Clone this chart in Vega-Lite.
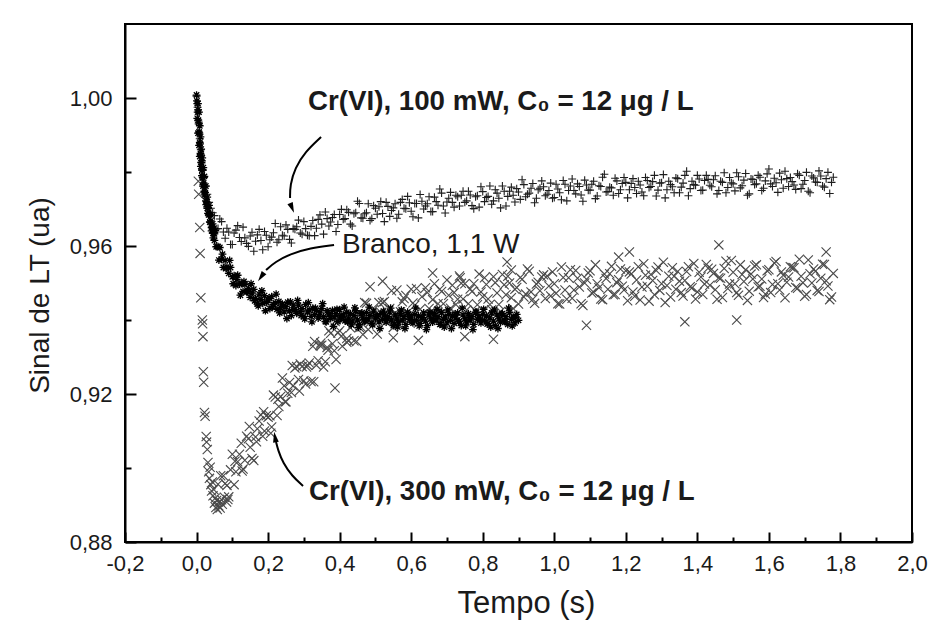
{
"$schema":"https://vega.github.io/schema/vega-lite/v6.json",
"width":787,"height":518,
"autosize":{"type":"none"},
"padding":{"left":125,"top":24,"right":18,"bottom":83},
"background":"white",
"config":{"view":{"stroke":"black","strokeWidth":2},"font":"Liberation Sans"},
"datasets":{
"cr100":[
{"t":0,"v":1.0005},{"t":0.003,"v":0.9975},{"t":0.006,"v":0.993},{"t":0.009,"v":0.989},{"t":0.012,"v":0.986},{"t":0.015,"v":0.983},{"t":0.018,"v":0.9805},{"t":0.021,"v":0.9785},{"t":0.025,"v":0.9762},{"t":0.03,"v":0.974},{"t":0.035,"v":0.9718},{"t":0.04,"v":0.9702},{"t":0.045,"v":0.969},
{"t":0.05,"v":0.9682},{"t":0.06,"v":0.9647},{"t":0.07,"v":0.9666},{"t":0.08,"v":0.9621},{"t":0.09,"v":0.9638},{"t":0.1,"v":0.9604},{"t":0.11,"v":0.9643},{"t":0.12,"v":0.9623},{"t":0.13,"v":0.9651},{"t":0.14,"v":0.9607},
{"t":0.15,"v":0.9627},{"t":0.16,"v":0.9586},{"t":0.17,"v":0.963},{"t":0.18,"v":0.9615},{"t":0.19,"v":0.9639},{"t":0.2,"v":0.9598},{"t":0.21,"v":0.9624},{"t":0.22,"v":0.9661},{"t":0.23,"v":0.9617},{"t":0.24,"v":0.9629},
{"t":0.25,"v":0.9657},{"t":0.26,"v":0.9618},{"t":0.27,"v":0.9647},{"t":0.28,"v":0.9652},{"t":0.29,"v":0.9635},{"t":0.3,"v":0.9666},{"t":0.31,"v":0.9629},{"t":0.32,"v":0.9653},{"t":0.33,"v":0.9628},{"t":0.34,"v":0.9672},
{"t":0.35,"v":0.9659},{"t":0.36,"v":0.9692},{"t":0.37,"v":0.9654},{"t":0.38,"v":0.9677},{"t":0.39,"v":0.9639},{"t":0.4,"v":0.9685},{"t":0.41,"v":0.9672},{"t":0.42,"v":0.9698},{"t":0.43,"v":0.9659},{"t":0.44,"v":0.9687},
{"t":0.45,"v":0.9721},{"t":0.46,"v":0.9676},{"t":0.47,"v":0.9687},{"t":0.48,"v":0.9714},{"t":0.49,"v":0.9674},{"t":0.5,"v":0.9702},{"t":0.51,"v":0.9706},{"t":0.52,"v":0.9688},{"t":0.53,"v":0.9718},{"t":0.54,"v":0.968},
{"t":0.55,"v":0.9703},{"t":0.56,"v":0.9675},{"t":0.57,"v":0.9718},{"t":0.58,"v":0.9702},{"t":0.59,"v":0.9734},{"t":0.6,"v":0.9694},{"t":0.61,"v":0.9715},{"t":0.62,"v":0.9676},{"t":0.63,"v":0.9721},{"t":0.64,"v":0.9708},
{"t":0.65,"v":0.9733},{"t":0.66,"v":0.9693},{"t":0.67,"v":0.972},{"t":0.68,"v":0.9754},{"t":0.69,"v":0.9708},{"t":0.7,"v":0.9719},{"t":0.71,"v":0.9745},{"t":0.72,"v":0.9705},{"t":0.73,"v":0.9733},{"t":0.74,"v":0.9737},
{"t":0.75,"v":0.9718},{"t":0.76,"v":0.9748},{"t":0.77,"v":0.9709},{"t":0.78,"v":0.9733},{"t":0.79,"v":0.9705},{"t":0.8,"v":0.9747},{"t":0.81,"v":0.9731},{"t":0.82,"v":0.9762},{"t":0.83,"v":0.9722},{"t":0.84,"v":0.9743},
{"t":0.85,"v":0.9703},{"t":0.86,"v":0.9748},{"t":0.87,"v":0.9734},{"t":0.88,"v":0.9759},{"t":0.89,"v":0.9719},{"t":0.9,"v":0.9746},{"t":0.91,"v":0.9779},{"t":0.92,"v":0.9733},{"t":0.93,"v":0.9743},{"t":0.94,"v":0.9769},
{"t":0.95,"v":0.9729},{"t":0.96,"v":0.9756},{"t":0.97,"v":0.976},{"t":0.98,"v":0.974},{"t":0.99,"v":0.977},{"t":1.0,"v":0.9731},{"t":1.01,"v":0.9754},{"t":1.02,"v":0.9725},{"t":1.03,"v":0.9767},{"t":1.04,"v":0.975},
{"t":1.05,"v":0.9781},{"t":1.06,"v":0.9741},{"t":1.07,"v":0.9761},{"t":1.08,"v":0.9721},{"t":1.09,"v":0.9765},{"t":1.1,"v":0.9751},{"t":1.11,"v":0.9775},{"t":1.12,"v":0.9735},{"t":1.13,"v":0.9761},{"t":1.14,"v":0.9794},
{"t":1.15,"v":0.9747},{"t":1.16,"v":0.9757},{"t":1.17,"v":0.9783},{"t":1.18,"v":0.9742},{"t":1.19,"v":0.9769},{"t":1.2,"v":0.9772},{"t":1.21,"v":0.9752},{"t":1.22,"v":0.9782},{"t":1.23,"v":0.9742},{"t":1.24,"v":0.9765},
{"t":1.25,"v":0.9736},{"t":1.26,"v":0.9777},{"t":1.27,"v":0.9761},{"t":1.28,"v":0.9791},{"t":1.29,"v":0.9751},{"t":1.3,"v":0.9771},{"t":1.31,"v":0.973},{"t":1.32,"v":0.9775},{"t":1.33,"v":0.976},{"t":1.34,"v":0.9784},
{"t":1.35,"v":0.9744},{"t":1.36,"v":0.977},{"t":1.37,"v":0.9802},{"t":1.38,"v":0.9755},{"t":1.39,"v":0.9766},{"t":1.4,"v":0.9791},{"t":1.41,"v":0.975},{"t":1.42,"v":0.9777},{"t":1.43,"v":0.978},{"t":1.44,"v":0.976},
{"t":1.45,"v":0.979},{"t":1.46,"v":0.975},{"t":1.47,"v":0.9772},{"t":1.48,"v":0.9744},{"t":1.49,"v":0.9785},{"t":1.5,"v":0.9768},{"t":1.51,"v":0.9798},{"t":1.52,"v":0.9757},{"t":1.53,"v":0.9778},{"t":1.54,"v":0.9737},
{"t":1.55,"v":0.9781},{"t":1.56,"v":0.9766},{"t":1.57,"v":0.9791},{"t":1.58,"v":0.975},{"t":1.59,"v":0.9776},{"t":1.6,"v":0.9808},{"t":1.61,"v":0.9761},{"t":1.62,"v":0.9771},{"t":1.63,"v":0.9797},{"t":1.64,"v":0.9756},
{"t":1.65,"v":0.9782},{"t":1.66,"v":0.9785},{"t":1.67,"v":0.9765},{"t":1.68,"v":0.9795},{"t":1.69,"v":0.9755},{"t":1.7,"v":0.9777},{"t":1.71,"v":0.9748},{"t":1.72,"v":0.9789},{"t":1.73,"v":0.9773},{"t":1.74,"v":0.9803},
{"t":1.75,"v":0.9762},{"t":1.76,"v":0.9782},{"t":1.77,"v":0.9742},{"t":1.78,"v":0.9786},
{"t":0.055,"v":0.9646},{"t":0.065,"v":0.9673},{"t":0.075,"v":0.9638},{"t":0.085,"v":0.9648},{"t":0.095,"v":0.9604},{"t":0.105,"v":0.9635},{"t":0.115,"v":0.9655},{"t":0.125,"v":0.9612},{"t":0.135,"v":0.9622},{"t":0.145,"v":0.9599},
{"t":0.155,"v":0.9637},{"t":0.165,"v":0.9613},{"t":0.175,"v":0.9645},{"t":0.185,"v":0.959},{"t":0.195,"v":0.9629},{"t":0.205,"v":0.9617},{"t":0.215,"v":0.9636},{"t":0.225,"v":0.961},{"t":0.235,"v":0.9652},{"t":0.245,"v":0.9627},
{"t":0.255,"v":0.9645},{"t":0.265,"v":0.9608},{"t":0.275,"v":0.9645},{"t":0.285,"v":0.967},{"t":0.295,"v":0.9632},{"t":0.305,"v":0.9647},{"t":0.315,"v":0.9628},{"t":0.325,"v":0.9669},{"t":0.335,"v":0.9648},{"t":0.345,"v":0.9684},
{"t":0.355,"v":0.9632},{"t":0.365,"v":0.9674},{"t":0.375,"v":0.9665},{"t":0.385,"v":0.9685},{"t":0.395,"v":0.9658},{"t":0.405,"v":0.9699},{"t":0.415,"v":0.9674},{"t":0.425,"v":0.9691},{"t":0.435,"v":0.9654},{"t":0.445,"v":0.969},
{"t":0.455,"v":0.9715},{"t":0.465,"v":0.9675},{"t":0.475,"v":0.969},{"t":0.485,"v":0.9669},{"t":0.495,"v":0.9709},{"t":0.505,"v":0.9686},{"t":0.515,"v":0.972},{"t":0.525,"v":0.9666},{"t":0.535,"v":0.9707},{"t":0.545,"v":0.9696},
{"t":0.555,"v":0.9714},{"t":0.565,"v":0.9686},{"t":0.575,"v":0.9726},{"t":0.585,"v":0.9701},{"t":0.595,"v":0.9717},{"t":0.605,"v":0.9679},{"t":0.615,"v":0.9715},{"t":0.625,"v":0.9739},{"t":0.635,"v":0.97},{"t":0.645,"v":0.9714},
{"t":0.655,"v":0.9693},{"t":0.665,"v":0.9732},{"t":0.675,"v":0.971},{"t":0.685,"v":0.9743},{"t":0.695,"v":0.9689},{"t":0.705,"v":0.9729},{"t":0.715,"v":0.9718},{"t":0.725,"v":0.9737},{"t":0.735,"v":0.9708},{"t":0.745,"v":0.9748},
{"t":0.755,"v":0.9722},{"t":0.765,"v":0.9738},{"t":0.775,"v":0.9701},{"t":0.785,"v":0.9736},{"t":0.795,"v":0.976},{"t":0.805,"v":0.972},{"t":0.815,"v":0.9734},{"t":0.825,"v":0.9713},{"t":0.835,"v":0.9752},{"t":0.845,"v":0.9729},
{"t":0.855,"v":0.9762},{"t":0.865,"v":0.9708},{"t":0.875,"v":0.9748},{"t":0.885,"v":0.9737},{"t":0.895,"v":0.9755},{"t":0.905,"v":0.9726},{"t":0.915,"v":0.9766},{"t":0.925,"v":0.974},{"t":0.935,"v":0.9756},{"t":0.945,"v":0.9717},
{"t":0.955,"v":0.9752},{"t":0.965,"v":0.9776},{"t":0.975,"v":0.9736},{"t":0.985,"v":0.975},{"t":0.995,"v":0.9729},{"t":1.005,"v":0.9767},{"t":1.015,"v":0.9744},{"t":1.025,"v":0.9777},{"t":1.035,"v":0.9722},{"t":1.045,"v":0.9762},
{"t":1.055,"v":0.975},{"t":1.065,"v":0.9768},{"t":1.075,"v":0.9738},{"t":1.085,"v":0.9778},{"t":1.095,"v":0.9751},{"t":1.105,"v":0.9767},{"t":1.115,"v":0.9728},{"t":1.125,"v":0.9763},{"t":1.135,"v":0.9786},{"t":1.145,"v":0.9746},
{"t":1.155,"v":0.9759},{"t":1.165,"v":0.9737},{"t":1.175,"v":0.9776},{"t":1.185,"v":0.9752},{"t":1.195,"v":0.9785},{"t":1.205,"v":0.973},{"t":1.215,"v":0.9769},{"t":1.225,"v":0.9758},{"t":1.235,"v":0.9775},{"t":1.245,"v":0.9746},
{"t":1.255,"v":0.9785},{"t":1.265,"v":0.9758},{"t":1.275,"v":0.9774},{"t":1.285,"v":0.9735},{"t":1.295,"v":0.977},{"t":1.305,"v":0.9793},{"t":1.315,"v":0.9752},{"t":1.325,"v":0.9766},{"t":1.335,"v":0.9744},{"t":1.345,"v":0.9782},
{"t":1.355,"v":0.9759},{"t":1.365,"v":0.9791},{"t":1.375,"v":0.9736},{"t":1.385,"v":0.9775},{"t":1.395,"v":0.9764},{"t":1.405,"v":0.9781},{"t":1.415,"v":0.9751},{"t":1.425,"v":0.9791},{"t":1.435,"v":0.9764},{"t":1.445,"v":0.9779},
{"t":1.455,"v":0.9741},{"t":1.465,"v":0.9775},{"t":1.475,"v":0.9798},{"t":1.485,"v":0.9758},{"t":1.495,"v":0.9771},{"t":1.505,"v":0.9749},{"t":1.515,"v":0.9787},{"t":1.525,"v":0.9763},{"t":1.535,"v":0.9796},{"t":1.545,"v":0.9741},
{"t":1.555,"v":0.978},{"t":1.565,"v":0.9768},{"t":1.575,"v":0.9786},{"t":1.585,"v":0.9756},{"t":1.595,"v":0.9795},{"t":1.605,"v":0.9768},{"t":1.615,"v":0.9783},{"t":1.625,"v":0.9745},{"t":1.635,"v":0.9779},{"t":1.645,"v":0.9802},
{"t":1.655,"v":0.9761},{"t":1.665,"v":0.9774},{"t":1.675,"v":0.9753},{"t":1.685,"v":0.9791},{"t":1.695,"v":0.9767},{"t":1.705,"v":0.9799},{"t":1.715,"v":0.9744},{"t":1.725,"v":0.9784},{"t":1.735,"v":0.9772},{"t":1.745,"v":0.9789},
{"t":1.755,"v":0.9759},{"t":1.765,"v":0.9799},{"t":1.775,"v":0.9772}
],
"branco":[
{"t":0,"v":1.0008},{"t":0.001,"v":0.9992},{"t":0.002,"v":0.9985},{"t":0.003,"v":0.9962},{"t":0.004,"v":0.9968},{"t":0.005,"v":0.994},{"t":0.006,"v":0.9935},{"t":0.007,"v":0.9908},{"t":0.008,"v":0.9905},{"t":0.009,"v":0.988},{"t":0.01,"v":0.9876},{"t":0.011,"v":0.985},{"t":0.012,"v":0.9846},{"t":0.013,"v":0.9826},{"t":0.014,"v":0.9825},{"t":0.015,"v":0.9805},{"t":0.016,"v":0.9806},{"t":0.017,"v":0.9786},{"t":0.018,"v":0.9784},{"t":0.019,"v":0.9766},{"t":0.02,"v":0.977},{"t":0.022,"v":0.9748},{"t":0.024,"v":0.9744},{"t":0.026,"v":0.9722},{"t":0.028,"v":0.972},{"t":0.03,"v":0.9702},{"t":0.032,"v":0.9702},{"t":0.034,"v":0.9684},{"t":0.036,"v":0.9685},{"t":0.038,"v":0.9664},{"t":0.04,"v":0.9668},{"t":0.042,"v":0.965},{"t":0.044,"v":0.9652},{"t":0.046,"v":0.9634},{"t":0.048,"v":0.9636},
{"t":0.004,"v":0.9985},{"t":0.007,"v":0.9962},{"t":0.002,"v":0.9945},{"t":0.009,"v":0.9925},{"t":0.004,"v":0.9905},{"t":0.011,"v":0.9895},{"t":0.007,"v":0.9872},{"t":0.013,"v":0.9862},{"t":0.009,"v":0.9842},{"t":0.016,"v":0.9838},{"t":0.012,"v":0.9815},{"t":0.019,"v":0.9812},{"t":0.015,"v":0.979},{"t":0.022,"v":0.9788},{"t":0.018,"v":0.9762},{"t":0.026,"v":0.9762},{"t":0.022,"v":0.9738},{"t":0.03,"v":0.9732},{"t":0.027,"v":0.9712},{"t":0.035,"v":0.971},{"t":0.032,"v":0.9688},{"t":0.04,"v":0.9684},{"t":0.037,"v":0.9665},{"t":0.045,"v":0.966},{"t":0.042,"v":0.9641},{"t":0.05,"v":0.9615},{"t":0.047,"v":0.9622},
{"t":0.05,"v":0.9633},{"t":0.055,"v":0.9598},{"t":0.06,"v":0.9598},{"t":0.065,"v":0.9596},{"t":0.07,"v":0.9564},{"t":0.075,"v":0.9542},{"t":0.08,"v":0.9561},{"t":0.085,"v":0.9543},{"t":0.09,"v":0.9526},{"t":0.095,"v":0.9542},
{"t":0.1,"v":0.9517},{"t":0.105,"v":0.952},{"t":0.11,"v":0.9493},{"t":0.115,"v":0.9521},{"t":0.12,"v":0.9497},{"t":0.125,"v":0.9498},{"t":0.13,"v":0.9477},{"t":0.135,"v":0.9496},{"t":0.14,"v":0.9476},{"t":0.145,"v":0.9485},
{"t":0.15,"v":0.9461},{"t":0.155,"v":0.9473},{"t":0.16,"v":0.9483},{"t":0.165,"v":0.9458},{"t":0.17,"v":0.9443},{"t":0.175,"v":0.947},{"t":0.18,"v":0.9456},{"t":0.185,"v":0.9445},{"t":0.19,"v":0.9466},{"t":0.195,"v":0.9447},
{"t":0.2,"v":0.9454},{"t":0.205,"v":0.9431},{"t":0.21,"v":0.9463},{"t":0.215,"v":0.9442},{"t":0.22,"v":0.9446},{"t":0.225,"v":0.9429},{"t":0.23,"v":0.945},{"t":0.235,"v":0.9433},{"t":0.24,"v":0.9443},{"t":0.245,"v":0.9422},
{"t":0.25,"v":0.9436},{"t":0.255,"v":0.9448},{"t":0.26,"v":0.9425},{"t":0.265,"v":0.9412},{"t":0.27,"v":0.944},{"t":0.275,"v":0.9428},{"t":0.28,"v":0.9418},{"t":0.285,"v":0.944},{"t":0.29,"v":0.9423},{"t":0.295,"v":0.9431},
{"t":0.3,"v":0.941},{"t":0.305,"v":0.9442},{"t":0.31,"v":0.9422},{"t":0.315,"v":0.9427},{"t":0.32,"v":0.941},{"t":0.325,"v":0.9432},{"t":0.33,"v":0.9415},{"t":0.335,"v":0.9426},{"t":0.34,"v":0.9405},{"t":0.345,"v":0.9419},
{"t":0.35,"v":0.9431},{"t":0.355,"v":0.9409},{"t":0.36,"v":0.9396},{"t":0.365,"v":0.9425},{"t":0.37,"v":0.9413},{"t":0.375,"v":0.9404},{"t":0.38,"v":0.9426},{"t":0.385,"v":0.9409},{"t":0.39,"v":0.9417},{"t":0.395,"v":0.9396},
{"t":0.4,"v":0.9428},{"t":0.405,"v":0.9408},{"t":0.41,"v":0.9414},{"t":0.415,"v":0.9398},{"t":0.42,"v":0.9421},{"t":0.425,"v":0.9405},{"t":0.43,"v":0.9417},{"t":0.435,"v":0.9397},{"t":0.44,"v":0.9412},{"t":0.445,"v":0.9425},
{"t":0.45,"v":0.94},{"t":0.455,"v":0.9388},{"t":0.46,"v":0.9417},{"t":0.465,"v":0.9406},{"t":0.47,"v":0.9397},{"t":0.475,"v":0.942},{"t":0.48,"v":0.9403},{"t":0.485,"v":0.9412},{"t":0.49,"v":0.9391},{"t":0.495,"v":0.9424},
{"t":0.5,"v":0.9405},{"t":0.505,"v":0.9411},{"t":0.51,"v":0.9395},{"t":0.515,"v":0.9418},{"t":0.52,"v":0.9402},{"t":0.525,"v":0.9414},{"t":0.53,"v":0.9394},{"t":0.535,"v":0.9409},{"t":0.54,"v":0.9422},{"t":0.545,"v":0.94},
{"t":0.55,"v":0.9385},{"t":0.555,"v":0.9414},{"t":0.56,"v":0.9403},{"t":0.565,"v":0.9394},{"t":0.57,"v":0.9417},{"t":0.575,"v":0.94},{"t":0.58,"v":0.9409},{"t":0.585,"v":0.9388},{"t":0.59,"v":0.9421},{"t":0.595,"v":0.9402},
{"t":0.6,"v":0.9408},{"t":0.605,"v":0.9392},{"t":0.61,"v":0.9415},{"t":0.615,"v":0.9399},{"t":0.62,"v":0.9411},{"t":0.625,"v":0.9391},{"t":0.63,"v":0.9406},{"t":0.635,"v":0.9419},{"t":0.64,"v":0.9397},{"t":0.645,"v":0.9385},
{"t":0.65,"v":0.9414},{"t":0.655,"v":0.9403},{"t":0.66,"v":0.9394},{"t":0.665,"v":0.9417},{"t":0.67,"v":0.94},{"t":0.675,"v":0.9409},{"t":0.68,"v":0.9388},{"t":0.685,"v":0.9421},{"t":0.69,"v":0.9402},{"t":0.695,"v":0.9408},
{"t":0.7,"v":0.9392},{"t":0.705,"v":0.9415},{"t":0.71,"v":0.9399},{"t":0.715,"v":0.9411},{"t":0.72,"v":0.9391},{"t":0.725,"v":0.9406},{"t":0.73,"v":0.9419},{"t":0.735,"v":0.9397},{"t":0.74,"v":0.9385},{"t":0.745,"v":0.9414},
{"t":0.75,"v":0.9403},{"t":0.755,"v":0.9394},{"t":0.76,"v":0.9417},{"t":0.765,"v":0.94},{"t":0.77,"v":0.9409},{"t":0.775,"v":0.9388},{"t":0.78,"v":0.9421},{"t":0.785,"v":0.9402},{"t":0.79,"v":0.9408},{"t":0.795,"v":0.9392},
{"t":0.8,"v":0.9415},{"t":0.805,"v":0.9399},{"t":0.81,"v":0.9411},{"t":0.815,"v":0.9391},{"t":0.82,"v":0.9406},{"t":0.825,"v":0.9419},{"t":0.83,"v":0.9397},{"t":0.835,"v":0.9385},{"t":0.84,"v":0.9414},{"t":0.845,"v":0.9403},
{"t":0.85,"v":0.9394},{"t":0.855,"v":0.9417},{"t":0.86,"v":0.94},{"t":0.865,"v":0.9409},{"t":0.87,"v":0.9388},{"t":0.875,"v":0.9421},{"t":0.88,"v":0.9402},{"t":0.885,"v":0.9408},{"t":0.89,"v":0.9392},{"t":0.895,"v":0.9415},{"t":0.9,"v":0.9399},
{"t":0.0525,"v":0.9642},{"t":0.0625,"v":0.9562},{"t":0.0725,"v":0.9578},{"t":0.0825,"v":0.9539},{"t":0.0925,"v":0.9561},{"t":0.1025,"v":0.9498},{"t":0.1125,"v":0.951},{"t":0.1225,"v":0.9467},{"t":0.1325,"v":0.9504},{"t":0.1425,"v":0.9477},
{"t":0.1525,"v":0.9498},{"t":0.1625,"v":0.9452},{"t":0.1725,"v":0.9438},{"t":0.1825,"v":0.9479},{"t":0.1925,"v":0.9425},{"t":0.2025,"v":0.946},{"t":0.2125,"v":0.9436},{"t":0.2225,"v":0.947},{"t":0.2325,"v":0.9419},{"t":0.2425,"v":0.9439},
{"t":0.2525,"v":0.9404},{"t":0.2625,"v":0.9449},{"t":0.2725,"v":0.9427},{"t":0.2825,"v":0.9453},{"t":0.2925,"v":0.9412},{"t":0.3025,"v":0.9403},{"t":0.3125,"v":0.9447},{"t":0.3225,"v":0.9395},{"t":0.3325,"v":0.9432},{"t":0.3425,"v":0.9409},
{"t":0.3525,"v":0.9444},{"t":0.3625,"v":0.9395},{"t":0.3725,"v":0.9417},{"t":0.3825,"v":0.9383},{"t":0.3925,"v":0.9429},{"t":0.4025,"v":0.9408},{"t":0.4125,"v":0.9435},{"t":0.4225,"v":0.9395},{"t":0.4325,"v":0.9387},{"t":0.4425,"v":0.9433},
{"t":0.4525,"v":0.938},{"t":0.4625,"v":0.9419},{"t":0.4725,"v":0.9398},{"t":0.4825,"v":0.9435},{"t":0.4925,"v":0.9387},{"t":0.5025,"v":0.941},{"t":0.5125,"v":0.9377},{"t":0.5225,"v":0.9424},{"t":0.5325,"v":0.9404},{"t":0.5425,"v":0.9432},
{"t":0.5525,"v":0.9389},{"t":0.5625,"v":0.9381},{"t":0.5725,"v":0.9427},{"t":0.5825,"v":0.9377},{"t":0.5925,"v":0.9416},{"t":0.6025,"v":0.9395},{"t":0.6125,"v":0.9432},{"t":0.6225,"v":0.9384},{"t":0.6325,"v":0.9407},{"t":0.6425,"v":0.9374},
{"t":0.6525,"v":0.9421},{"t":0.6625,"v":0.9401},{"t":0.6725,"v":0.9429},{"t":0.6825,"v":0.9389},{"t":0.6925,"v":0.9381},{"t":0.7025,"v":0.9427},{"t":0.7125,"v":0.9377},{"t":0.7225,"v":0.9416},{"t":0.7325,"v":0.9395},{"t":0.7425,"v":0.9432},
{"t":0.7525,"v":0.9384},{"t":0.7625,"v":0.9407},{"t":0.7725,"v":0.9374},{"t":0.7825,"v":0.9421},{"t":0.7925,"v":0.9401},{"t":0.8025,"v":0.9429},{"t":0.8125,"v":0.9389},{"t":0.8225,"v":0.9381},{"t":0.8325,"v":0.9427},{"t":0.8425,"v":0.9377},
{"t":0.8525,"v":0.9416},{"t":0.8625,"v":0.9395},{"t":0.8725,"v":0.9432},{"t":0.8825,"v":0.9384},{"t":0.8925,"v":0.9407}
],
"cr300":[
{"t":0.005,"v":0.9775},{"t":0.006,"v":0.974},{"t":0.009,"v":0.965},{"t":0.01,"v":0.958},{"t":0.012,"v":0.946},{"t":0.016,"v":0.94},{"t":0.017,"v":0.939},{"t":0.018,"v":0.9355},{"t":0.019,"v":0.926},{"t":0.02,"v":0.9232},{"t":0.022,"v":0.915},{"t":0.024,"v":0.914},{"t":0.027,"v":0.9085},{"t":0.028,"v":0.907},
{"t":0.03,"v":0.905},{"t":0.032,"v":0.9015},{"t":0.034,"v":0.899},{"t":0.036,"v":0.8972},{"t":0.038,"v":0.9002},{"t":0.04,"v":0.8955},{"t":0.042,"v":0.8938},{"t":0.044,"v":0.8962},{"t":0.046,"v":0.8925},{"t":0.048,"v":0.8942},{"t":0.05,"v":0.8905},{"t":0.052,"v":0.8918},{"t":0.054,"v":0.8893},{"t":0.056,"v":0.8912},{"t":0.058,"v":0.8888},{"t":0.062,"v":0.8898},{"t":0.066,"v":0.8892},{"t":0.072,"v":0.8902},{"t":0.078,"v":0.8921},{"t":0.084,"v":0.8908},
{"t":0.06,"v":0.8956},{"t":0.07,"v":0.8914},{"t":0.08,"v":0.8958},{"t":0.09,"v":0.8922},{"t":0.1,"v":0.9037},{"t":0.11,"v":0.899},{"t":0.12,"v":0.9037},{"t":0.13,"v":0.8997},{"t":0.14,"v":0.9086},{"t":0.15,"v":0.9056},
{"t":0.16,"v":0.902},{"t":0.17,"v":0.9106},{"t":0.18,"v":0.9143},{"t":0.19,"v":0.91},{"t":0.2,"v":0.9137},{"t":0.21,"v":0.9111},{"t":0.22,"v":0.9192},{"t":0.23,"v":0.9166},{"t":0.24,"v":0.9243},{"t":0.25,"v":0.9179},
{"t":0.26,"v":0.9231},{"t":0.27,"v":0.9222},{"t":0.28,"v":0.9274},{"t":0.29,"v":0.9281},{"t":0.3,"v":0.9236},{"t":0.31,"v":0.9278},{"t":0.32,"v":0.9234},{"t":0.33,"v":0.9342},{"t":0.34,"v":0.929},{"t":0.35,"v":0.9332},
{"t":0.36,"v":0.9287},{"t":0.37,"v":0.9371},{"t":0.38,"v":0.9336},{"t":0.39,"v":0.9293},{"t":0.4,"v":0.9371},{"t":0.41,"v":0.9401},{"t":0.42,"v":0.935},{"t":0.43,"v":0.9379},{"t":0.44,"v":0.9344},{"t":0.45,"v":0.9416},
{"t":0.46,"v":0.9381},{"t":0.47,"v":0.9447},{"t":0.48,"v":0.9374},{"t":0.49,"v":0.9417},{"t":0.5,"v":0.9402},{"t":0.51,"v":0.9447},{"t":0.52,"v":0.9447},{"t":0.53,"v":0.9396},{"t":0.54,"v":0.9431},{"t":0.55,"v":0.938},
{"t":0.56,"v":0.9481},{"t":0.57,"v":0.9422},{"t":0.58,"v":0.9458},{"t":0.59,"v":0.9406},{"t":0.6,"v":0.9483},{"t":0.61,"v":0.944},{"t":0.62,"v":0.9391},{"t":0.63,"v":0.9463},{"t":0.64,"v":0.9487},{"t":0.65,"v":0.9431},
{"t":0.66,"v":0.9455},{"t":0.67,"v":0.9416},{"t":0.68,"v":0.9483},{"t":0.69,"v":0.9444},{"t":0.7,"v":0.9508},{"t":0.71,"v":0.9432},{"t":0.72,"v":0.9474},{"t":0.73,"v":0.9456},{"t":0.74,"v":0.9499},{"t":0.75,"v":0.9498},
{"t":0.76,"v":0.9444},{"t":0.77,"v":0.9477},{"t":0.78,"v":0.9424},{"t":0.79,"v":0.9524},{"t":0.8,"v":0.9463},{"t":0.81,"v":0.9496},{"t":0.82,"v":0.9442},{"t":0.83,"v":0.9517},{"t":0.84,"v":0.9473},{"t":0.85,"v":0.9423},
{"t":0.86,"v":0.9495},{"t":0.87,"v":0.9518},{"t":0.88,"v":0.946},{"t":0.89,"v":0.9483},{"t":0.9,"v":0.9443},{"t":0.91,"v":0.951},{"t":0.92,"v":0.947},{"t":0.93,"v":0.9532},{"t":0.94,"v":0.9456},{"t":0.95,"v":0.9497},
{"t":0.96,"v":0.9479},{"t":0.97,"v":0.9522},{"t":0.98,"v":0.9519},{"t":0.99,"v":0.9465},{"t":1.0,"v":0.9498},{"t":1.01,"v":0.9444},{"t":1.02,"v":0.9543},{"t":1.03,"v":0.9481},{"t":1.04,"v":0.9514},{"t":1.05,"v":0.9459},
{"t":1.06,"v":0.9534},{"t":1.07,"v":0.9489},{"t":1.08,"v":0.9439},{"t":1.09,"v":0.951},{"t":1.1,"v":0.9533},{"t":1.11,"v":0.9475},{"t":1.12,"v":0.9498},{"t":1.13,"v":0.9457},{"t":1.14,"v":0.9524},{"t":1.15,"v":0.9483},
{"t":1.16,"v":0.9545},{"t":1.17,"v":0.9469},{"t":1.18,"v":0.9509},{"t":1.19,"v":0.9491},{"t":1.2,"v":0.9533},{"t":1.21,"v":0.953},{"t":1.22,"v":0.9476},{"t":1.23,"v":0.9508},{"t":1.24,"v":0.9454},{"t":1.25,"v":0.9552},
{"t":1.26,"v":0.9491},{"t":1.27,"v":0.9523},{"t":1.28,"v":0.9468},{"t":1.29,"v":0.9543},{"t":1.3,"v":0.9498},{"t":1.31,"v":0.9447},{"t":1.32,"v":0.9518},{"t":1.33,"v":0.9541},{"t":1.34,"v":0.9483},{"t":1.35,"v":0.9505},
{"t":1.36,"v":0.9465},{"t":1.37,"v":0.9531},{"t":1.38,"v":0.949},{"t":1.39,"v":0.9553},{"t":1.4,"v":0.9476},{"t":1.41,"v":0.9516},{"t":1.42,"v":0.9497},{"t":1.43,"v":0.954},{"t":1.44,"v":0.9537},{"t":1.45,"v":0.9482},
{"t":1.46,"v":0.9514},{"t":1.47,"v":0.9461},{"t":1.48,"v":0.9559},{"t":1.49,"v":0.9497},{"t":1.5,"v":0.9529},{"t":1.51,"v":0.9474},{"t":1.52,"v":0.9549},{"t":1.53,"v":0.9504},{"t":1.54,"v":0.9453},{"t":1.55,"v":0.9524},
{"t":1.56,"v":0.9546},{"t":1.57,"v":0.9489},{"t":1.58,"v":0.9511},{"t":1.59,"v":0.947},{"t":1.6,"v":0.9536},{"t":1.61,"v":0.9496},{"t":1.62,"v":0.9558},{"t":1.63,"v":0.9481},{"t":1.64,"v":0.9521},{"t":1.65,"v":0.9502},
{"t":1.66,"v":0.9544},{"t":1.67,"v":0.9541},{"t":1.68,"v":0.9486},{"t":1.69,"v":0.9518},{"t":1.7,"v":0.9464},{"t":1.71,"v":0.9562},{"t":1.72,"v":0.95},{"t":1.73,"v":0.9532},{"t":1.74,"v":0.9477},{"t":1.75,"v":0.9551},
{"t":1.76,"v":0.9506},{"t":1.77,"v":0.9455},{"t":1.78,"v":0.9526},
{"t":0.065,"v":0.891},{"t":0.075,"v":0.8979},{"t":0.085,"v":0.8953},{"t":0.095,"v":0.8995},{"t":0.105,"v":0.8955},{"t":0.115,"v":0.9017},{"t":0.125,"v":0.9067},{"t":0.135,"v":0.9021},{"t":0.145,"v":0.9079},{"t":0.155,"v":0.9026},
{"t":0.165,"v":0.9084},{"t":0.175,"v":0.9127},{"t":0.185,"v":0.9086},{"t":0.195,"v":0.9141},{"t":0.205,"v":0.9141},{"t":0.215,"v":0.9197},{"t":0.225,"v":0.9142},{"t":0.235,"v":0.9193},{"t":0.245,"v":0.9222},{"t":0.255,"v":0.9202},
{"t":0.265,"v":0.9204},{"t":0.275,"v":0.927},{"t":0.285,"v":0.9239},{"t":0.295,"v":0.9274},{"t":0.305,"v":0.9227},{"t":0.315,"v":0.9284},{"t":0.325,"v":0.9329},{"t":0.335,"v":0.9278},{"t":0.345,"v":0.9331},{"t":0.355,"v":0.9273},
{"t":0.365,"v":0.9326},{"t":0.375,"v":0.9364},{"t":0.385,"v":0.9317},{"t":0.395,"v":0.9365},{"t":0.405,"v":0.9357},{"t":0.415,"v":0.9406},{"t":0.425,"v":0.9343},{"t":0.435,"v":0.9385},{"t":0.445,"v":0.9406},{"t":0.455,"v":0.938},
{"t":0.0675,"v":0.8979},{"t":0.0875,"v":0.8915},{"t":0.1075,"v":0.9018},{"t":0.1275,"v":0.8992},{"t":0.1475,"v":0.9112},{"t":0.1675,"v":0.9071},{"t":0.1875,"v":0.9152},{"t":0.2075,"v":0.9094},{"t":0.2275,"v":0.9186},{"t":0.2475,"v":0.9179},
{"t":0.2675,"v":0.9277},{"t":0.2875,"v":0.9208},{"t":0.3075,"v":0.9273},{"t":0.3275,"v":0.9233},{"t":0.3475,"v":0.9338},{"t":0.3675,"v":0.9318},{"t":0.3875,"v":0.9396},{"t":0.4075,"v":0.9329},{"t":0.4275,"v":0.94},{"t":0.4475,"v":0.9342},
{"t":0.465,"v":0.9361},{"t":0.475,"v":0.9445},{"t":0.485,"v":0.9393},{"t":0.495,"v":0.9428},{"t":0.505,"v":0.9362},{"t":0.515,"v":0.9421},{"t":0.525,"v":0.945},{"t":0.535,"v":0.94},{"t":0.545,"v":0.9479},{"t":0.555,"v":0.9419},
{"t":0.565,"v":0.939},{"t":0.575,"v":0.9449},{"t":0.585,"v":0.9466},{"t":0.595,"v":0.9411},{"t":0.605,"v":0.9446},{"t":0.615,"v":0.9485},{"t":0.625,"v":0.9429},{"t":0.635,"v":0.94},{"t":0.645,"v":0.9474},{"t":0.655,"v":0.9416},
{"t":0.665,"v":0.9498},{"t":0.675,"v":0.9444},{"t":0.685,"v":0.9477},{"t":0.695,"v":0.9409},{"t":0.705,"v":0.9467},{"t":0.715,"v":0.9494},{"t":0.725,"v":0.9442},{"t":0.735,"v":0.9519},{"t":0.745,"v":0.9457},{"t":0.755,"v":0.9427},
{"t":0.765,"v":0.9484},{"t":0.775,"v":0.9498},{"t":0.785,"v":0.9441},{"t":0.795,"v":0.9476},{"t":0.805,"v":0.9514},{"t":0.815,"v":0.9457},{"t":0.825,"v":0.9428},{"t":0.835,"v":0.9501},{"t":0.845,"v":0.9442},{"t":0.855,"v":0.9523},
{"t":0.865,"v":0.9468},{"t":0.875,"v":0.95},{"t":0.885,"v":0.9431},{"t":0.895,"v":0.9488},{"t":0.905,"v":0.9515},{"t":0.915,"v":0.9462},{"t":0.925,"v":0.9538},{"t":0.935,"v":0.9476},{"t":0.945,"v":0.9445},{"t":0.955,"v":0.9502},
{"t":0.965,"v":0.9516},{"t":0.975,"v":0.9458},{"t":0.985,"v":0.9492},{"t":0.995,"v":0.953},{"t":1.005,"v":0.9472},{"t":1.015,"v":0.9443},{"t":1.025,"v":0.9515},{"t":1.035,"v":0.9456},{"t":1.045,"v":0.9536},{"t":1.055,"v":0.9481},
{"t":1.065,"v":0.9513},{"t":1.075,"v":0.9444},{"t":1.085,"v":0.95},{"t":1.095,"v":0.9527},{"t":1.105,"v":0.9473},{"t":1.115,"v":0.9549},{"t":1.125,"v":0.9487},{"t":1.135,"v":0.9455},{"t":1.145,"v":0.9512},{"t":1.155,"v":0.9525},
{"t":1.165,"v":0.9468},{"t":1.175,"v":0.9501},{"t":1.185,"v":0.9538},{"t":1.195,"v":0.9481},{"t":1.205,"v":0.9452},{"t":1.215,"v":0.9524},{"t":1.225,"v":0.9464},{"t":1.235,"v":0.9544},{"t":1.245,"v":0.9489},{"t":1.255,"v":0.9521},
{"t":1.265,"v":0.9451},{"t":1.275,"v":0.9507},{"t":1.285,"v":0.9534},{"t":1.295,"v":0.948},{"t":1.305,"v":0.9556},{"t":1.315,"v":0.9493},{"t":1.325,"v":0.9462},{"t":1.335,"v":0.9518},{"t":1.345,"v":0.9531},{"t":1.355,"v":0.9474},
{"t":1.365,"v":0.9507},{"t":1.375,"v":0.9544},{"t":1.385,"v":0.9487},{"t":1.395,"v":0.9457},{"t":1.405,"v":0.9529},{"t":1.415,"v":0.9469},{"t":1.425,"v":0.955},{"t":1.435,"v":0.9494},{"t":1.445,"v":0.9526},{"t":1.455,"v":0.9456},
{"t":1.465,"v":0.9513},{"t":1.475,"v":0.9539},{"t":1.485,"v":0.9485},{"t":1.495,"v":0.9561},{"t":1.505,"v":0.9498},{"t":1.515,"v":0.9467},{"t":1.525,"v":0.9523},{"t":1.535,"v":0.9536},{"t":1.545,"v":0.9478},{"t":1.555,"v":0.9511},
{"t":1.565,"v":0.9549},{"t":1.575,"v":0.9491},{"t":1.585,"v":0.9461},{"t":1.595,"v":0.9533},{"t":1.605,"v":0.9474},{"t":1.615,"v":0.9554},{"t":1.625,"v":0.9498},{"t":1.635,"v":0.953},{"t":1.645,"v":0.946},{"t":1.655,"v":0.9516},
{"t":1.665,"v":0.9542},{"t":1.675,"v":0.9488},{"t":1.685,"v":0.9564},{"t":1.695,"v":0.9501},{"t":1.705,"v":0.9469},{"t":1.715,"v":0.9525},{"t":1.725,"v":0.9538},{"t":1.735,"v":0.948},{"t":1.745,"v":0.9513},{"t":1.755,"v":0.955},
{"t":1.765,"v":0.9492},{"t":1.775,"v":0.9462},
{"t":0.387,"v":0.9216},{"t":0.42,"v":0.934},{"t":0.485,"v":0.949},{"t":0.52,"v":0.9505},{"t":0.55,"v":0.9352},{"t":0.62,"v":0.9345},{"t":0.66,"v":0.9527},{"t":0.737,"v":0.9514},{"t":0.75,"v":0.9355},{"t":0.83,"v":0.9348},
{"t":0.868,"v":0.9557},{"t":0.88,"v":0.9535},{"t":1.09,"v":0.9386},{"t":1.18,"v":0.957},{"t":1.21,"v":0.9584},{"t":1.365,"v":0.9395},{"t":1.46,"v":0.9603},{"t":1.51,"v":0.94},{"t":1.76,"v":0.9584}
],
"shafts":[
{"a":1,"o":1,"t":0.3481,"v":0.98946},{"a":1,"o":2,"t":0.3033,"v":0.98541},{"a":1,"o":3,"t":0.2754,"v":0.98108},{"a":1,"o":4,"t":0.2614,"v":0.97649},{"a":1,"o":5,"t":0.2614,"v":0.97297},
{"a":2,"o":1,"t":0.3844,"v":0.96027},{"a":2,"o":2,"t":0.3173,"v":0.95946},{"a":2,"o":3,"t":0.2614,"v":0.95784},{"a":2,"o":4,"t":0.2194,"v":0.95568},{"a":2,"o":5,"t":0.1943,"v":0.95351},
{"a":3,"o":1,"t":0.2977,"v":0.89514},{"a":3,"o":2,"t":0.267,"v":0.89784},{"a":3,"o":3,"t":0.2418,"v":0.90135},{"a":3,"o":4,"t":0.2278,"v":0.90486},{"a":3,"o":5,"t":0.2222,"v":0.90703}
],
"heads":[
{"a":1,"t":0.267,"v":0.97027,"dir":158},
{"a":2,"t":0.1803,"v":0.95162,"dir":215},
{"a":3,"t":0.2194,"v":0.90838,"dir":350}
],
"notes":[
{"id":"c100","t":0.3117,"v":0.99676,"txt":"Cr(VI), 100 mW, C₀ = 12 μg / L"},
{"id":"branco","t":0.4068,"v":0.95811,"txt":"Branco, 1,1 W"},
{"id":"c300","t":0.3145,"v":0.89135,"txt":"Cr(VI), 300 mW, C₀ = 12 μg / L"}
]
},
"encoding":{
"x":{"field":"t","type":"quantitative","scale":{"domain":[-0.2,2.0],"nice":false,"zero":false},"axis":null},
"y":{"field":"v","type":"quantitative","scale":{"domain":[0.88,1.02],"nice":false,"zero":false},"axis":null}
},
"layer":[
{"data":{"name":"cr300"},
 "mark":{"type":"point","shape":"M-1,-1L1,1M-1,1L1,-1","size":85,"filled":false,"strokeWidth":1.1,"color":"#4a4a4a","opacity":1},
 "encoding":{
  "x":{"field":"t","type":"quantitative","scale":{"domain":[-0.2,2.0],"nice":false,"zero":false},
   "axis":{"orient":"bottom","values":[-0.2,0,0.2,0.4,0.6,0.8,1,1.2,1.4,1.6,1.8,2],"labelExpr":"replace(replace(format(datum.value,'.1f'),'.',','),'−','-')","tickSize":-10,"tickWidth":2,"tickColor":"black","domainColor":"black","domainWidth":2,"labelPadding":21,"labelFontSize":22,"labelColor":"#1a1a1a","labelFont":"Liberation Sans","labelFlush":false,"labelOverlap":false,"grid":false,"title":"Tempo (s)","titleFontSize":31,"titleFontWeight":"normal","titleFont":"Liberation Sans","titleColor":"#1a1a1a","titleX":401,"titleY":70,"titleBaseline":"alphabetic","titleAlign":"center"}},
  "y":{"field":"v","type":"quantitative","scale":{"domain":[0.88,1.02],"nice":false,"zero":false},
   "axis":{"orient":"left","values":[0.88,0.92,0.96,1.0],"labelExpr":"replace(format(datum.value,'.2f'),'.',',')","tickSize":-11,"tickWidth":2,"tickColor":"black","domainColor":"black","domainWidth":2,"labelPadding":24,"labelFontSize":22,"labelColor":"#1a1a1a","labelFont":"Liberation Sans","labelFlush":false,"labelOverlap":false,"grid":false,"title":"Sinal de LT (ua)","titleFontSize":28,"titleFontWeight":"normal","titleFont":"Liberation Sans","titleColor":"#1a1a1a","titleX":-85,"titleY":271,"titleBaseline":"middle","titleAlign":"center","titleAngle":-90}}
 }},
{"data":{"name":"cr100"},
 "mark":{"type":"point","shape":"M-1,0L1,0M0,-1L0,1","size":64,"filled":false,"strokeWidth":1.1,"color":"#1e1e1e","opacity":1},
 "encoding":{
  "x":{"field":"t","type":"quantitative","scale":{"domain":[-0.2,2.0],"nice":false,"zero":false},
   "axis":{"orient":"bottom","values":[-0.1,0.1,0.3,0.5,0.7,0.9,1.1,1.3,1.5,1.7,1.9],"labels":false,"domain":false,"tickSize":-5,"tickWidth":2,"tickColor":"black","grid":false,"title":null}},
  "y":{"field":"v","type":"quantitative","scale":{"domain":[0.88,1.02],"nice":false,"zero":false},
   "axis":{"orient":"left","values":[0.9,0.94,0.98],"labels":false,"domain":false,"tickSize":-6,"tickWidth":2,"tickColor":"black","grid":false,"title":null}}
 }},
{"data":{"name":"branco"},
 "mark":{"type":"point","shape":"M-1,0L1,0M0,-1L0,1M-0.7,-0.7L0.7,0.7M-0.7,0.7L0.7,-0.7","size":60,"filled":false,"strokeWidth":1.3,"color":"#000000","opacity":1}},
{"data":{"name":"shafts"},
 "mark":{"type":"line","interpolate":"basis","color":"black","strokeWidth":2},
 "encoding":{"detail":{"field":"a","type":"nominal"},"order":{"field":"o","type":"quantitative"}}},
{"data":{"name":"heads"},
 "mark":{"type":"point","shape":"M0,-1L0.55,1L-0.55,1Z","size":110,"filled":true,"color":"black","opacity":1,"strokeWidth":0},
 "encoding":{"angle":{"field":"dir","type":"quantitative","scale":null}}},
{"data":{"name":"notes"},
 "transform":[{"filter":"datum.id != 'branco'"}],
 "mark":{"type":"text","align":"left","baseline":"alphabetic","fontSize":27.7,"fontWeight":"bold","font":"Liberation Sans","color":"#1a1a1a"},
 "encoding":{"text":{"field":"txt"}}},
{"data":{"name":"notes"},
 "transform":[{"filter":"datum.id == 'branco'"}],
 "mark":{"type":"text","align":"left","baseline":"alphabetic","fontSize":28,"fontWeight":"normal","font":"Liberation Sans","color":"#1a1a1a"},
 "encoding":{"text":{"field":"txt"}}}
],
"resolve":{"axis":{"x":"independent","y":"independent"}}
}
